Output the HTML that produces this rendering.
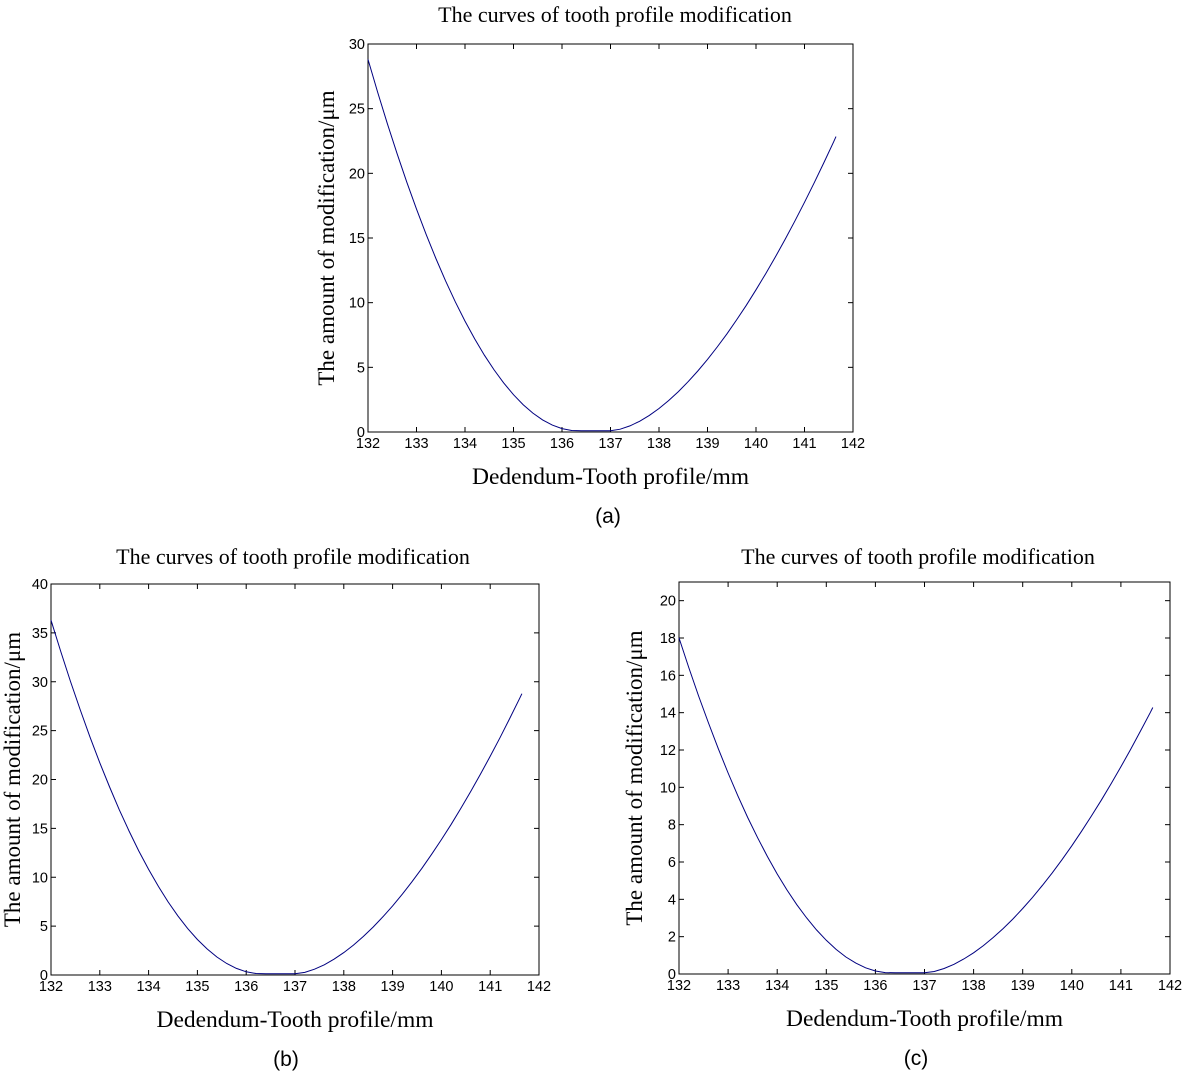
<!DOCTYPE html>
<html><head><meta charset="utf-8"><style>
body{margin:0;background:#fff;}
svg{display:block}
.t{font-family:"Liberation Serif",serif;fill:#000}
.n{font-family:"Liberation Sans",sans-serif;fill:#000;font-size:14.5px}
</style></head><body>
<svg id="s" width="1184" height="1071" xmlns="http://www.w3.org/2000/svg"></svg>
<script>
const s=document.getElementById('s');let h='';
function base(x){
 if(x<136.3) return 1.67*Math.pow(136.3-x,1.95)+0.1;
 if(x<=137) return 0.1;
 return 1.72*Math.pow(x-137,1.68)+0.1;
}
function plot(L,R,T,B,ymax,ystep,sc,tx,lab,labx,tty,tcx){
 const X=v=>L+(v-132)/10*(R-L), Y=v=>B-v/ymax*(B-T);
 h+=`<rect x="${L}" y="${T}" width="${R-L}" height="${B-T}" fill="none" stroke="#000" stroke-width="1"/>`;
 for(let v=132;v<=142;v++){const x=X(v);
  h+=`<line x1="${x}" y1="${B}" x2="${x}" y2="${B-5}" stroke="#000"/><line x1="${x}" y1="${T}" x2="${x}" y2="${T+5}" stroke="#000"/>`;
  h+=`<text class="n" x="${x}" y="${B+16}" text-anchor="middle">${v}</text>`;}
 for(let v=0;v<=ymax+1e-9;v+=ystep){const y=Y(v);
  h+=`<line x1="${L}" y1="${y}" x2="${L+5}" y2="${y}" stroke="#000"/><line x1="${R}" y1="${y}" x2="${R-5}" y2="${y}" stroke="#000"/>`;
  h+=`<text class="n" x="${L-3}" y="${y+5}" text-anchor="end">${v}</text>`;}
 let p=[];for(let x=132;x<=141.651;x+=0.2){p.push(X(x).toFixed(1)+','+Y(base(x)*sc).toFixed(1));}
 p.push(X(141.65).toFixed(1)+','+Y(base(141.65)*sc).toFixed(1));
 h+=`<polyline points="${p.join(' ')}" fill="none" stroke="#000080" stroke-width="1"/>`;
 const cx=(L+R)/2;
 h+=`<text class="t" x="${tcx}" y="${tty}" text-anchor="middle" font-size="22">The curves of tooth profile modification</text>`;
 h+=`<text class="t" x="${cx}" y="${B+52}" text-anchor="middle" font-size="23.5">Dedendum-Tooth profile/mm</text>`;
 h+=`<text class="t" transform="translate(${tx},${(T+B)/2}) rotate(-90)" text-anchor="middle" font-size="23">The amount of modification/μm</text>`;
 h+=`<text class="n" style="font-size:21px" x="${labx}" y="${B+91}" text-anchor="middle">${lab}</text>`;
}
plot(368,853,44,432,30,5,1,334,'(a)',608,22,615);
plot(51,539,584,975,40,5,1.26,20,'(b)',286,564,293);
plot(679,1170,582,974,21,2,0.625,642,'(c)',916,564,918);
s.innerHTML=h;
</script>
</body></html>
